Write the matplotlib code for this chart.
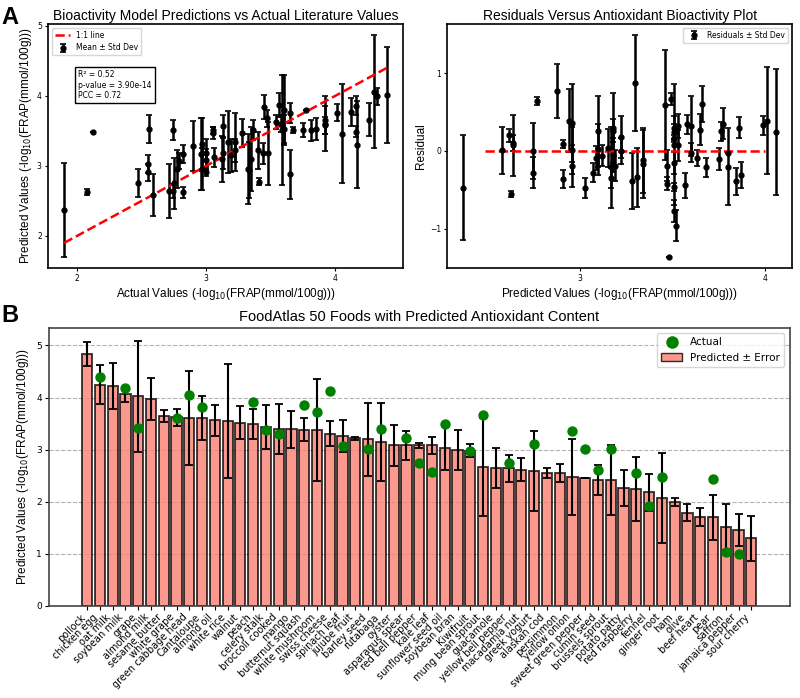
import numpy as np
import matplotlib.pyplot as plt
from matplotlib.ticker import MultipleLocator
from matplotlib.patches import Patch
from matplotlib.lines import Line2D

plt.rcParams['font.family'] = ['DejaVu Sans']

# Panel A: literature values vs model predictions (mean and std dev of predictions)
actual = [1.90, 2.08, 2.12, 2.47, 2.56, 2.55, 2.55, 2.59, 2.71, 2.74,
          2.75, 2.74, 2.77, 2.79, 2.82, 2.82, 2.90, 2.96, 2.97, 2.97,
          3.00, 3.00, 3.00, 3.05, 3.05, 3.06, 3.13, 3.13, 3.12, 3.17,
          3.19, 3.22, 3.22, 3.28, 3.32, 3.33, 3.35, 3.36, 3.40, 3.41,
          3.44, 3.45, 3.47, 3.48, 3.54, 3.56, 3.58, 3.59, 3.60, 3.60,
          3.65, 3.65, 3.67, 3.75, 3.77, 3.81, 3.85, 3.92, 3.92, 3.92,
          4.01, 4.05, 4.12, 4.16, 4.16, 4.17, 4.26, 4.30, 4.32, 4.40]
predicted = [2.37, 2.63, 3.48, 2.75, 3.52, 3.03, 2.91, 2.58, 2.64, 3.51,
             2.75, 2.64, 2.96, 3.07, 3.17, 2.62, 3.28, 3.17, 3.31, 2.96,
             3.19, 3.09, 2.91, 3.47, 3.51, 3.12, 3.57, 3.18, 3.10, 3.34,
             3.15, 3.34, 3.22, 3.47, 2.96, 2.94, 3.10, 3.51, 3.22, 2.77,
             3.18, 3.84, 3.68, 3.18, 3.63, 3.87, 3.60, 3.51, 3.80, 3.53,
             3.75, 2.88, 3.51, 3.51, 3.80, 3.51, 3.53, 3.60, 3.65, 3.58,
             3.76, 3.46, 3.77, 3.86, 3.49, 3.30, 3.66, 4.06, 3.99, 4.01]
pred_std = [0.67, 0.04, 0.00, 0.20, 0.20, 0.13, 0.12, 0.30, 0.39, 0.14,
            0.36, 0.10, 0.27, 0.12, 0.13, 0.08, 0.36, 0.52, 0.38, 0.30,
            0.20, 0.15, 0.05, 0.08, 0.05, 0.13, 0.16, 0.22, 0.33, 0.44,
            0.24, 0.42, 0.17, 0.20, 0.50, 0.40, 0.46, 0.14, 0.27, 0.05,
            0.15, 0.17, 0.12, 0.45, 0.10, 0.17, 0.12, 0.78, 0.50, 0.20,
            0.14, 0.35, 0.04, 0.10, 0.00, 0.15, 0.16, 0.39, 0.20, 0.12,
            0.12, 0.71, 0.20, 0.14, 0.08, 0.62, 0.23, 0.81, 0.12, 0.69]
stats_text = "R² = 0.52\np-value = 3.90e-14\nPCC = 0.72"
zero_line_span = (2.49, 4.0)

# Panel B: FoodAtlas foods, predicted values with error, literature value where known
foods = ['pollock', 'chicken egg', 'oat milk', 'soybean milk', 'grape', 'almond milk',
         'sesame butter', 'white grape', 'green cabbage head', 'Cantaloupe', 'almond oil',
         'white rice', 'walnut', 'peach', 'celery stalk', 'broccoli cooked', 'mango',
         'butternut squash', 'white mushroom', 'swiss cheese', 'spinach leaf', 'jujube fruit',
         'barley seed', 'rutabaga', 'oyster', 'asparagus spear', 'red bell pepper', 'kale leaf',
         'sunflower seed oil', 'soybean bran', 'Kiwifruit', 'mung bean sprout', 'guacamole',
         'yellow bell pepper', 'macadamia nut', 'greek yogurt', 'alaskan cod', 'persimmon',
         'yellow onion', 'sweet green pepper', 'cumin seed', 'brussels sprout', 'potato patty',
         'red raspberry', 'fennel', 'ginger root', 'ham', 'olive', 'beef heart', 'pear',
         'saffron', 'jamaica pepper', 'sour cherry']
food_pred = [4.83, 4.25, 4.22, 4.06, 4.02, 3.97, 3.65, 3.62, 3.61, 3.60, 3.56,
             3.55, 3.52, 3.49, 3.43, 3.40, 3.39, 3.38, 3.37, 3.30, 3.26, 3.22,
             3.20, 3.15, 3.08, 3.08, 3.08, 3.08, 3.04, 2.99, 2.98, 2.67, 2.65,
             2.64, 2.61, 2.59, 2.55, 2.55, 2.48, 2.45, 2.41, 2.41, 2.26, 2.24,
             2.18, 2.07, 1.99, 1.79, 1.70, 1.70, 1.52, 1.45, 1.30]
food_err = [0.23, 0.37, 0.44, 0.15, 1.06, 0.41, 0.12, 0.16, 0.90, 0.42, 0.30,
            1.09, 0.31, 0.29, 0.42, 0.48, 0.35, 0.22, 0.98, 0.24, 0.31, 0.03,
            0.70, 0.75, 0.39, 0.28, 0.04, 0.17, 0.43, 0.39, 0.13, 0.94, 0.39,
            0.26, 0.22, 0.76, 0.09, 0.18, 0.73, 0.00, 0.29, 0.67, 0.35, 0.61,
            0.36, 0.86, 0.08, 0.17, 0.17, 0.43, 0.44, 0.31, 0.43]
nan = np.nan
food_actual = [nan, 4.40, nan, 4.18, 3.41, nan, nan, 3.60, 4.05, 3.81, nan,
               nan, nan, 3.91, 3.37, 3.30, nan, 3.86, 3.73, 4.13, 3.06, nan,
               3.01, 3.40, nan, 3.22, 2.75, 2.57, 3.49, nan, 2.98, 3.67, nan,
               2.75, nan, 3.10, nan, nan, 3.36, 3.01, 2.60, 3.01, nan, 2.55,
               1.91, 2.48, nan, nan, nan, 2.44, 1.03, 1.00, nan]

title_font = 'Liberation Sans'

fig = plt.figure(figsize=(8, 6.98), dpi=100)
ax1 = fig.add_axes([0.060, 0.616, 0.444, 0.350])
ax2 = fig.add_axes([0.559, 0.616, 0.431, 0.350])
ax3 = fig.add_axes([0.061, 0.132, 0.926, 0.398])

# --- A left: predictions vs actual ---
actual = np.array(actual)
predicted = np.array(predicted)
pred_std = np.array(pred_std)
ax1.errorbar(actual, predicted, yerr=pred_std, fmt='o', color='black', ms=3.5,
             elinewidth=1.8, capsize=2, capthick=1.2, label='Mean ± Std Dev')
line_x = np.array([actual.min(), actual.max()])
ax1.plot(line_x, line_x, 'r--', lw=1.8, label='1:1 line')
ax1.text(0.085, 0.81, stats_text, transform=ax1.transAxes, fontsize=5.5, va='top',
         bbox=dict(boxstyle='square,pad=0.4', facecolor='white', edgecolor='black', lw=1))
ax1.legend(loc='upper left', fontsize=5.5)
ax1.set_title('Bioactivity Model Predictions vs Actual Literature Values',
              family=title_font, fontsize=10, pad=3)
ax1.set_xlabel('Actual Values (-log$_{10}$(FRAP(mmol/100g)))', family=title_font, fontsize=8.5, labelpad=2)
ax1.set_ylabel('Predicted Values (-log$_{10}$(FRAP(mmol/100g)))', family=title_font, fontsize=8.5, labelpad=2)
ax1.xaxis.set_major_locator(MultipleLocator(1))
ax1.yaxis.set_major_locator(MultipleLocator(1))

# --- A right: residuals ---
residual = actual - predicted
ax2.errorbar(predicted, residual, yerr=pred_std, fmt='o', color='black', ms=3.5,
             elinewidth=1.8, capsize=2, capthick=1.2, label='Residuals ± Std Dev')
ax2.hlines(0, zero_line_span[0], zero_line_span[1], colors='red', linestyles='--', lw=1.8)
ax2.legend(loc='upper right', fontsize=5.5)
ax2.set_title('Residuals Versus Antioxidant Bioactivity Plot', family=title_font, fontsize=10, pad=3)
ax2.set_xlabel('Predicted Values (-log$_{10}$(FRAP(mmol/100g)))', family=title_font, fontsize=8.5, labelpad=2)
ax2.set_ylabel('Residual', family=title_font, fontsize=8.5, labelpad=2)
ax2.xaxis.set_major_locator(MultipleLocator(1))
ax2.yaxis.set_major_locator(MultipleLocator(1))

for ax in (ax1, ax2):
    ax.tick_params(labelsize=5.5, length=2.5, width=0.8, pad=2)
    for s in ax.spines.values():
        s.set_linewidth(1.2)

# --- B: bar chart of foods ---
xpos = np.arange(len(foods))
ax3.bar(xpos, food_pred, width=0.8, color='salmon', alpha=0.8, edgecolor='black',
        linewidth=1.3, yerr=food_err, capsize=3,
        error_kw=dict(ecolor='black', elinewidth=1.5, capthick=1.3), zorder=2)
ax3.scatter(xpos, food_actual, color='green', s=42, zorder=4)
ax3.set_xlim(-3, 55)
ax3.set_ylim(bottom=0)
ax3.yaxis.grid(True, linestyle='--', color='gray', alpha=0.6, lw=0.8)
ax3.set_axisbelow(True)
ax3.set_xticks(xpos)
ax3.set_xticklabels(foods, rotation=45, ha='right', fontsize=7)
ax3.tick_params(axis='y', labelsize=6.5, length=3, pad=2)
ax3.tick_params(axis='x', length=3, pad=1.5)
ax3.set_ylabel('Predicted Values (-log$_{10}$(FRAP(mmol/100g)))', family=title_font, fontsize=8.5)
ax3.set_title('FoodAtlas 50 Foods with Predicted Antioxidant Content',
              family=title_font, fontsize=10.5, pad=5)
legend_handles = [Line2D([], [], marker='o', color='green', ls='', ms=8),
                  Patch(facecolor='salmon', alpha=0.8, edgecolor='black')]
ax3.legend(legend_handles, ['Actual', 'Predicted ± Error'], loc='upper right', fontsize=7.5)
for s in ax3.spines.values():
    s.set_linewidth(1.2)
    s.set_color('#444444')

fig.text(0.002, 0.975, 'A', fontsize=17, fontweight='bold', family=title_font, va='center')
fig.text(0.002, 0.548, 'B', fontsize=17, fontweight='bold', family=title_font, va='center')

fig.savefig('out.png', dpi=100)
